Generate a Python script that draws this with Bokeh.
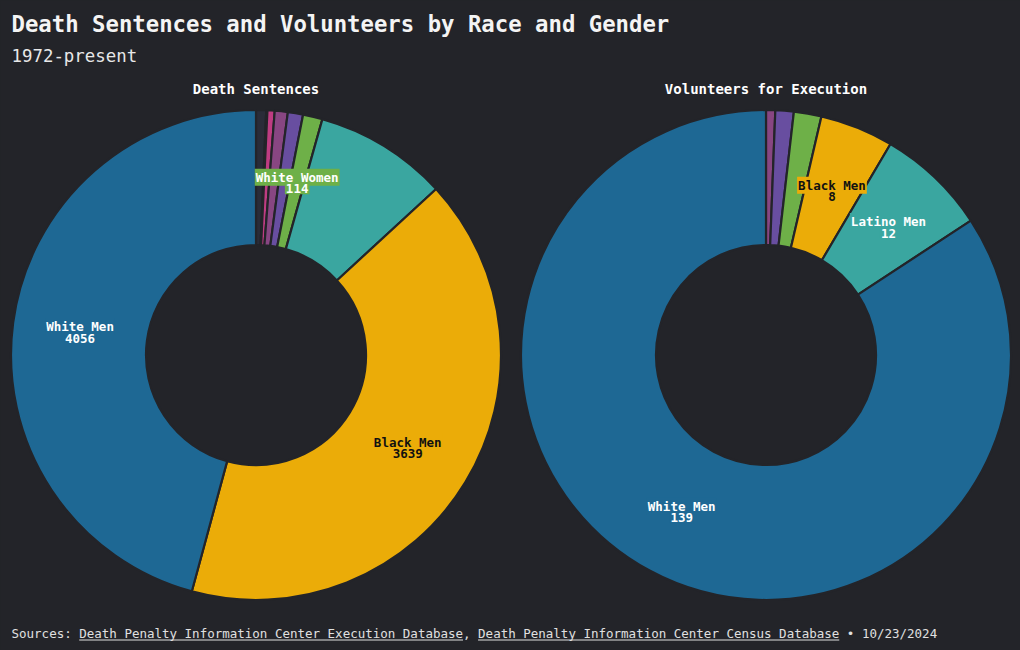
import numpy as np
from bokeh.plotting import figure
from bokeh.models import Range1d, ColumnDataSource
from bokeh.core.properties import value
from bokeh.embed import file_html
from bokeh.resources import INLINE

# ---------------- data ----------------
title_text = "Death Sentences and Volunteers by Race and Gender"
subtitle_text = "1972-present"

sent_title = "Death Sentences"
sent_categories = ["Other Men", "Asian Women", "Latina Women", "Other Women",
                   "Black Women", "White Women", "Latino Men", "Black Men", "White Men"]
sent_values = [59, 7, 42, 76, 89, 114, 778, 3639, 4056]
sent_labeled = ["White Women", "Black Men", "White Men"]

vol_title = "Volunteers for Execution"
vol_categories = ["Other Women", "Black Women", "White Women", "Black Men", "Latino Men", "White Men"]
vol_values = [1, 2, 3, 8, 12, 139]
vol_labeled = ["Black Men", "Latino Men", "White Men"]

source_prefix = "Sources: "
source_link1 = "Death Penalty Information Center Execution Database"
source_sep = ", "
source_link2 = "Death Penalty Information Center Census Database"
source_date = " \u2022 10/23/2024"

# ---------------- styles ----------------
BG = "#232429"
FONT = "DejaVu Sans Mono"
W, H = 1020, 650
COLORS = {
    "Other Men": "#2a2c38",
    "Asian Women": "#2b5d6e",
    "Latina Women": "#be3c82",
    "Other Women": "#884682",
    "Black Women": "#684ea0",
    "White Women": "#6eb048",
    "Latino Men": "#3aa6a0",
    "Black Men": "#ebac08",
    "White Men": "#1e6894",
}
TEXT_COLORS = {"Black Men": "#111111"}

p = figure(width=W, height=H, x_range=Range1d(0, W), y_range=Range1d(0, H),
           x_axis_type=None, y_axis_type=None, toolbar_location=None,
           output_backend="svg", min_border=0,
           background_fill_color=BG, border_fill_color=BG, outline_line_color=None)
p.grid.visible = False


def Y(ys):
    return H - ys


R_IN, R_OUT = 110, 245
R_LAB = (R_IN + R_OUT) / 2


def donut(cx, cy, cats, vals, labeled, title):
    vals = np.array(vals, dtype=float)
    cum = np.concatenate([[0.0], np.cumsum(vals)]) / vals.sum() * 2 * np.pi
    start = np.pi / 2 - cum[1:]
    end = np.pi / 2 - cum[:-1]
    src = ColumnDataSource(dict(cat=cats, val=vals, start=start, end=end,
                                color=[COLORS[c] for c in cats]))
    p.annular_wedge(x=cx, y=Y(cy), inner_radius=R_IN, outer_radius=R_OUT,
                    start_angle="start", end_angle="end", fill_color="color",
                    line_color=BG, line_width=2.2, source=src)
    mids = (start + end) / 2
    for i, c in enumerate(cats):
        if c not in labeled:
            continue
        lx = cx + R_LAB * np.cos(mids[i])
        ly = Y(cy) + R_LAB * np.sin(mids[i])
        tc = TEXT_COLORS.get(c, "#ffffff")
        for txt, dy in ((c, 5.0), ("%d" % vals[i], -6.5)):
            p.text(x=[lx], y=[ly + dy], text=[txt], text_align="center",
                   text_baseline="middle", text_font=value(FONT),
                   text_font_size="12.5px", text_font_style="bold",
                   text_color=tc, background_fill_color=COLORS[c],
                   padding=1)
    p.text(x=[cx], y=[Y(88.5)], text=[title], text_align="center",
           text_baseline="middle", text_font=value(FONT),
           text_font_size="14px", text_font_style="bold", text_color="#ffffff")


donut(255.5, 354.5, sent_categories, sent_values, sent_labeled, sent_title)
donut(765.5, 354.5, vol_categories, vol_values, vol_labeled, vol_title)

p.text(x=[11], y=[Y(23.5)], text=[title_text], text_align="left", text_baseline="middle",
       text_font=value(FONT), text_font_size="22.3px", text_font_style="bold",
       text_color="#f4f4f4")
p.text(x=[11], y=[Y(55)], text=[subtitle_text], text_align="left", text_baseline="middle",
       text_font=value(FONT), text_font_size="17.4px", text_color="#e8e8e8")

FS = 12.5
cw = 0.602 * FS
footer = source_prefix + source_link1 + source_sep + source_link2 + source_date
p.text(x=[11], y=[Y(632.5)], text=[footer], text_align="left", text_baseline="middle",
       text_font=value(FONT), text_font_size="%spx" % FS, text_color="#e0e0e0")
a1 = len(source_prefix)
b1 = a1 + len(source_link1)
a2 = b1 + len(source_sep)
b2 = a2 + len(source_link2)
p.segment(x0=[11 + a1 * cw, 11 + a2 * cw], x1=[11 + b1 * cw, 11 + b2 * cw],
          y0=[Y(639.5), Y(639.5)], y1=[Y(639.5), Y(639.5)], line_color="#e0e0e0", line_width=1)

html = file_html(p, INLINE)
html = html.replace("<head>", "<head><style>html,body{margin:0;padding:0;background:%s;overflow:hidden}</style>" % BG, 1)
open("out.html", "w").write(html)
